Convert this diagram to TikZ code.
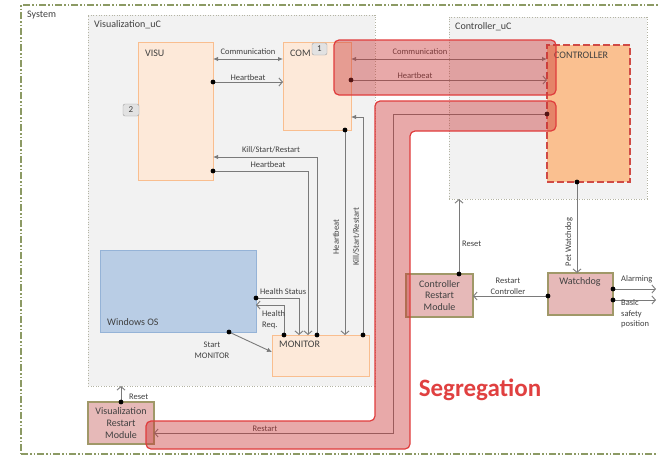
\documentclass[tikz,border=0pt]{standalone}
\usepackage{fontspec}
\setmainfont{Carlito}
\usetikzlibrary{arrows.meta}
\definecolor{peach}{HTML}{FDE9D9}
\definecolor{peachb}{HTML}{F9BE8F}
\definecolor{ctrlf}{HTML}{FAC090}
\definecolor{ctrlb}{HTML}{D04A45}
\definecolor{winf}{HTML}{B9CDE5}
\definecolor{winb}{HTML}{95B3D7}
\definecolor{rmf}{HTML}{E6B9B8}
\definecolor{rmb}{HTML}{A09868}
\definecolor{contf}{HTML}{F2F2F2}
\definecolor{contb}{HTML}{B4B4A4}
\definecolor{sysb}{HTML}{8C9A64}
\definecolor{linec}{HTML}{7A7A7A}
\definecolor{labc}{HTML}{404040}
\definecolor{segf}{HTML}{C83232}
\definecolor{segb}{HTML}{E03C3C}
\definecolor{segt}{HTML}{E04040}
\definecolor{badgef}{HTML}{E2E2E2}
\definecolor{badgeb}{HTML}{A0A0A0}
\newcommand\jdot[1]{\fill[black] (#1) circle (2.4pt);}
\begin{document}
\begin{tikzpicture}[x=1pt,y=-1pt,
  box/.style={anchor=north west, inner sep=0pt, outer sep=0pt},
  comp/.style={box, draw=peachb, fill=peach, line width=1pt},
  ctrlbox/.style={box, draw=ctrlb, fill=ctrlf, line width=2.5pt, dash pattern=on 7pt off 3pt},
  winbox/.style={box, draw=winb, fill=winf, line width=1pt},
  rmod/.style={box, draw=rmb, fill=rmf, line width=1.2pt, align=center, text=labc, font=\fontsize{10}{11.7}\selectfont},
  cont/.style={box, draw=contb, fill=contf, line width=0.8pt, dash pattern=on 1pt off 1.6pt},
  sysframe/.style={box, draw=sysb, line width=1.4pt, dash pattern=on 7pt off 2pt on 1.5pt off 2pt on 1.5pt off 2pt},
  ttl/.style={anchor=west, inner sep=0pt, text=labc, font=\fontsize{10}{12}\selectfont},
  lbl/.style={inner sep=0pt, text=labc, font=\fontsize{8.5}{10.5}\selectfont},
  badge/.style={draw=badgeb, fill=badgef, rounded corners=2pt, inner sep=0pt, text=labc, font=\fontsize{9}{10}\selectfont},
  conn/.style={draw=linec, line width=0.9pt},
  openend/.style={-{Straight Barb[length=3.5pt,width=8pt]}},
  solidend/.style={-{Latex[length=5pt,width=4.5pt]}},
  bothsolid/.style={{Latex[length=5pt,width=4.5pt]}-{Latex[length=5pt,width=4.5pt]}},
  seg/.style={fill=segf, fill opacity=0.42, draw=segb, line width=1.2pt, rounded corners=5pt}
]
\useasboundingbox (0,0) rectangle (658,455);
\begin{scope}
\clip (0,0) rectangle (658,455);
% frames
\node[sysframe, minimum width=660pt, minimum height=449pt] (sys) at (21,5) {};
\node[ttl] (syst) at (27,15) {System};
\node[cont, minimum width=287pt, minimum height=371pt] (vuc) at (88,15) {};
\node[ttl] (vuct) at (94,25) {Visualization\_uC};
\node[cont, minimum width=198pt, minimum height=182pt] (cuc) at (449,17) {};
\node[ttl] (cuct) at (455,27) {Controller\_uC};
% components
\node[comp, minimum width=75pt, minimum height=138pt] (visu) at (138,42) {};
\node[ttl] (visut) at (145,53) {VISU};
\node[comp, minimum width=68pt, minimum height=88pt] (com) at (283,42) {};
\node[ttl] (comt) at (290,53) {COM};
\node[badge, minimum width=15pt, minimum height=12pt] (b1) at (319.5,49) {1};
\node[badge, minimum width=16pt, minimum height=12pt] (b2) at (131,110) {2};
\node[ctrlbox, minimum width=83pt, minimum height=137pt] (ctrl) at (547,45) {};
\node[ttl] (ctrlt) at (554,55) {CONTROLLER};
\node[winbox, minimum width=156pt, minimum height=82pt] (win) at (100,250) {};
\node[ttl] (wint) at (107,322) {Windows OS};
\node[comp, minimum width=97pt, minimum height=41pt] (mon) at (272,335) {};
\node[ttl] (mont) at (279,344) {MONITOR};
\node[rmod, minimum width=65pt, minimum height=42pt] (wd) at (548,273) {};
\node[ttl, anchor=center] (wdt) at (580,282) {Watchdog};
\node[rmod, minimum width=67pt, minimum height=43pt] (crm) at (406,274) {Controller\\Restart\\Module};
\node[rmod, minimum width=66pt, minimum height=42pt] (vrm) at (88,402) {Visualization\\Restart\\Module};
% VISU - COM
\coordinate (c1a) at (visu.east |- 0,59);
\draw[conn, bothsolid] (c1a) -- (com.west |- c1a);
\node[lbl] (l1) at (248,52) {Communication};
\coordinate (h1a) at (visu.east |- 0,82);
\draw[conn, openend] (h1a) -- (com.west |- h1a); \jdot{h1a}
\node[lbl] (l2) at (248,78) {Heartbeat};
% COM - CONTROLLER
\coordinate (c2a) at (com.east |- 0,59);
\draw[conn, bothsolid] (c2a) -- (ctrl.west |- c2a);
\node[lbl] (l3) at (420,52) {Communication};
\coordinate (h2a) at (com.east |- 0,80);
\draw[conn, openend] (h2a) -- (ctrl.west |- h2a); \jdot{h2a}
\node[lbl] (l4) at (415,76) {Heartbeat};
% CONTROLLER -> VRM restart
\coordinate (rsa) at (ctrl.west |- 0,114);
\coordinate (rsb) at (393,114);
\draw[conn, openend] (rsa) -- (rsb) |- (vrm.east |- 0,433); \jdot{rsa}
\node[lbl] (l5) at (265,429) {Restart};
% MONITOR -> VISU kill
\coordinate (k1a) at (mon.north -| 317,0);
\draw[conn, solidend] (k1a) |- (visu.east |- 0,157); \jdot{k1a}
\node[lbl] (l6) at (271,150) {Kill/Start/Restart};
% VISU -> MONITOR heartbeat
\coordinate (h3a) at (visu.east |- 0,171);
\draw[conn, openend] (h3a) -| (mon.north -| 308,0); \jdot{h3a}
\node[lbl] (l7) at (268,165) {Heartbeat};
% COM -> MONITOR heartbeat
\coordinate (h4a) at (com.south -| 345,0);
\draw[conn, openend] (h4a) -- (mon.north -| h4a); \jdot{h4a}
\node[lbl, rotate=90] (l8) at (336,237) {Heartbeat};
% MONITOR -> COM kill
\coordinate (k2a) at (mon.north -| 363,0);
\draw[conn, solidend] (k2a) |- (com.east |- 0,117); \jdot{k2a}
\node[lbl, rotate=90] (l9) at (356,237) {Kill/Start/Restart};
% Health status
\coordinate (hsa) at (win.east |- 0,298);
\draw[conn, openend] (hsa) -| (mon.north -| 299,0); \jdot{hsa}
\node[lbl, anchor=west] (l10) at (260,292) {Health Status};
% Health req
\coordinate (hra) at (mon.north -| 284,0);
\draw[conn, openend] (hra) |- (win.east |- 0,305); \jdot{hra}
\node[lbl, anchor=west, align=left] (l11) at (262,319.5) {Health\\Req.};
% Start MONITOR
\coordinate (sma) at (win.south -| 229,0);
\draw[conn, solidend] (sma) -- (mon.west |- 0,352); \jdot{sma}
\node[lbl, align=center] (l12) at (212,350.5) {Start\\MONITOR};
% VRM reset
\coordinate (vra) at (vrm.north -| 121,0);
\draw[conn, openend] (vra) -- (vuc.south -| vra); \jdot{vra}
\node[lbl, anchor=west] (l13) at (129,397) {Reset};
% Pet watchdog
\coordinate (pwa) at (ctrl.south -| 577,0);
\draw[conn, openend] (pwa) -- (wd.north -| pwa); \jdot{pwa}
\node[lbl, rotate=90] (l14) at (569,242) {Pet Watchdog};
% Restart controller
\coordinate (rca) at (wd.west |- 0,296);
\draw[conn, openend] (rca) -- (crm.east |- rca); \jdot{rca}
\node[lbl, align=center] (l15) at (508,286.5) {Restart\\Controller};
% CRM reset
\coordinate (cra) at (crm.north -| 459,0);
\draw[conn, openend] (cra) -- (cuc.south -| cra); \jdot{cra}
\node[lbl, anchor=west] (l16) at (462,244) {Reset};
% Alarming / basic safety
\coordinate (ala) at (wd.east |- 0,289);
\coordinate (alb) at (656,289);
\draw[conn, openend] (ala) -- (alb); \jdot{ala}
\node[lbl, anchor=west] (l17) at (621,279) {Alarming};
\coordinate (bsa) at (wd.east |- 0,300);
\coordinate (bsb) at (656,300);
\draw[conn, openend] (bsa) -- (bsb); \jdot{bsa}
\node[lbl, anchor=west, align=left] (l18) at (621,314) {Basic\\safety\\position};
% segregation bands
\draw[seg] (334,40) rectangle (556,95);
\draw[seg] (375,101) -- (556,101) -- (556,131) -- (410,131) -- (410,449) -- (146,449) -- (146,421) -- (375,421) -- cycle;
\node[text=segt, inner sep=0pt, font=\bfseries\fontsize{25}{26}\selectfont] (segl) at (480,390) {Segregation};
\end{scope}
\end{tikzpicture}
\end{document}
